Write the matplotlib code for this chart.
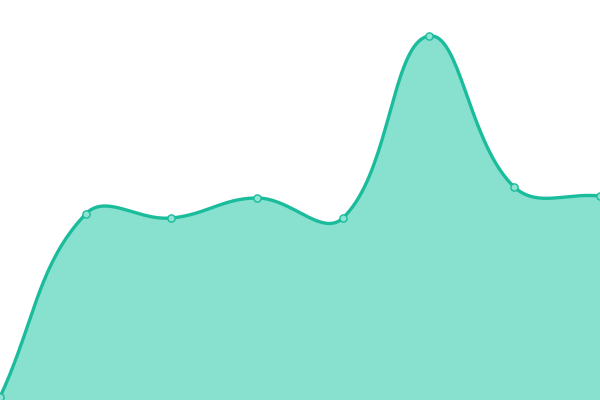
import numpy as np
import matplotlib
matplotlib.use("Agg")
import matplotlib.pyplot as plt

# ── Data ───────────────────────────────────────────────────────────────────
labels = ["A", "B", "C", "D", "E", "F", "G", "H"]
values = [3, 186, 182, 202, 182, 364, 213, 204]

LINE_COLOR = "#1abc9c"
FILL_COLOR = "#88e0cf"
TENSION = 0.4


def spline_path(px, py, t=TENSION, steps=40):
    """Chart.js style cubic bezier through points (display coords)."""
    n = len(px)
    cps = []
    for i in range(n):
        p0 = (px[max(i - 1, 0)], py[max(i - 1, 0)])
        p1 = (px[i], py[i])
        p2 = (px[min(i + 1, n - 1)], py[min(i + 1, n - 1)])
        d01 = np.hypot(p1[0] - p0[0], p1[1] - p0[1])
        d12 = np.hypot(p2[0] - p1[0], p2[1] - p1[1])
        tot = d01 + d12
        s01 = d01 / tot if tot else 0
        s12 = d12 / tot if tot else 0
        fa, fb = t * s01, t * s12
        prev_cp = (p1[0] - fa * (p2[0] - p0[0]), p1[1] - fa * (p2[1] - p0[1]))
        next_cp = (p1[0] + fb * (p2[0] - p0[0]), p1[1] + fb * (p2[1] - p0[1]))
        cps.append((prev_cp, next_cp))
    xs, ys = [], []
    u = np.linspace(0, 1, steps)
    for i in range(n - 1):
        a = np.array([px[i], py[i]])
        b = np.array(cps[i][1])
        c = np.array(cps[i + 1][0])
        d = np.array([px[i + 1], py[i + 1]])
        pts = ((1 - u) ** 3)[:, None] * a + (3 * (1 - u) ** 2 * u)[:, None] * b \
            + (3 * (1 - u) * u ** 2)[:, None] * c + (u ** 3)[:, None] * d
        xs.extend(pts[:, 0])
        ys.extend(pts[:, 1])
    return np.array(xs), np.array(ys)


fig = plt.figure(figsize=(6, 4), dpi=100)
ax = fig.add_axes([0, 0, 1, 1])
ax.set_xlim(0, len(values) - 1)
ax.set_ylim(0, 400)
ax.axis("off")

x = np.arange(len(values))
disp = ax.transData.transform(np.column_stack([x, values]))
sx, sy = spline_path(disp[:, 0], disp[:, 1])
curve = ax.transData.inverted().transform(np.column_stack([sx, sy]))

ax.fill_between(curve[:, 0], curve[:, 1], 0, color=FILL_COLOR, linewidth=0)
ax.plot(curve[:, 0], curve[:, 1], color=LINE_COLOR, linewidth=2.4,
        solid_capstyle="butt")
ax.plot(x, values, "o", markersize=5.2, markerfacecolor="#8fe3d2",
        markeredgecolor=LINE_COLOR, markeredgewidth=1.0, clip_on=True)

fig.savefig("out.png", dpi=100)
plt.close(fig)
